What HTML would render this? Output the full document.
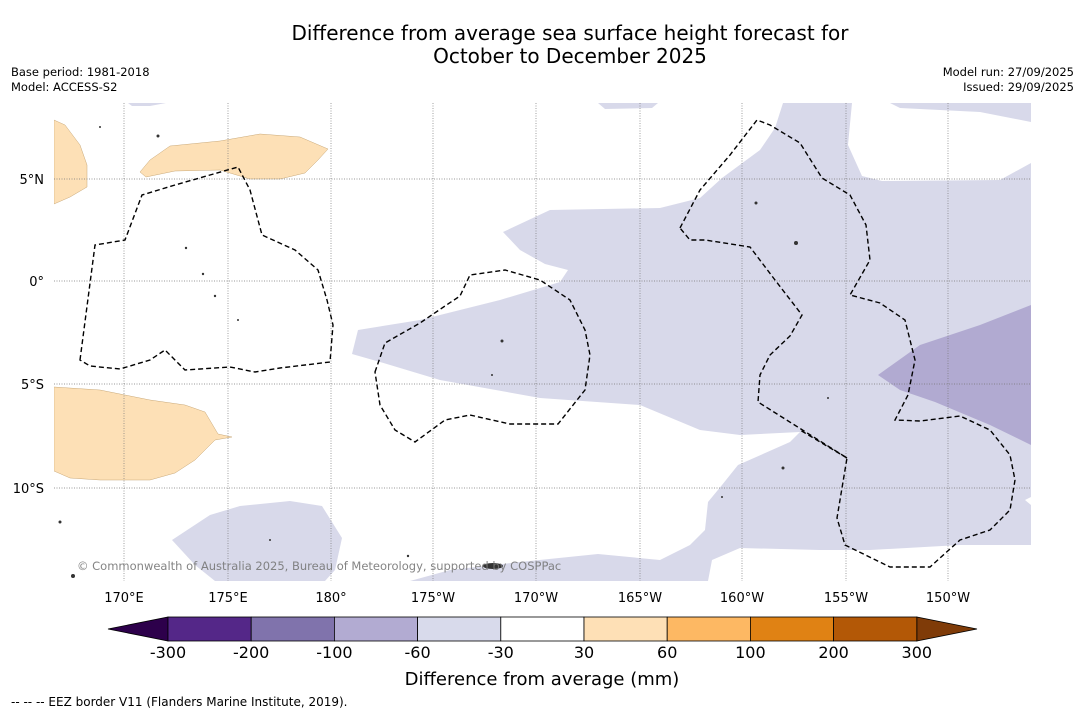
<!DOCTYPE html>
<html><head><meta charset="utf-8">
<style>
body{margin:0;background:#fff;font-family:"DejaVu Sans","Liberation Sans",sans-serif;}
#wrap{position:relative;width:1085px;height:713px;overflow:hidden;background:#fff}
.t{position:absolute;white-space:nowrap;color:#000}
svg text{font-family:"DejaVu Sans","Liberation Sans",sans-serif}
</style></head>
<body>
<div id="wrap">
<div class="t" style="left:0;width:1140px;text-align:center;top:22px;font-size:20px;line-height:23px">Difference from average sea surface height forecast for<br>October to December 2025</div>
<div class="t" style="left:11px;top:65px;font-size:11.5px;line-height:15px">Base period: 1981-2018<br>Model: ACCESS-S2</div>
<div class="t" style="right:11px;top:65px;font-size:11.5px;line-height:15px;text-align:right">Model run: 27/09/2025<br>Issued: 29/09/2025</div>
<svg id="map" width="1085" height="713" style="position:absolute;left:0;top:0">
 <defs><clipPath id="mc"><rect x="54" y="103" width="977" height="478"/></clipPath></defs>
 <g clip-path="url(#mc)">
  <g fill="#d8d9ea">
   <path d="M598,103 L658,103 L652,108 L605,109 Z"/>
   <path d="M128,103 L166,103 L150,106 L132,106 Z"/>
   <path d="M783,103 L852,103 L848,145 L862,176 L882,181 L1000,180 L1031,163 L1031,497 L1025,500 L1031,505 L1031,545 L960,545 L870,550 L820,550 L740,548 L712,560 L708,581 L410,581 L450,570 L520,562 L598,554 L660,560 L690,545 L705,530 L708,502 L722,485 L738,465 L790,442 L800,432 L740,435 L700,430 L640,405 L540,398 L440,380 L380,362 L352,354 L358,330 L420,320 L500,300 L560,282 L568,270 L545,264 L520,250 L503,232 L550,210 L660,208 L700,198 L722,178 L760,150 L775,128 Z"/>
   <path d="M890,103 L1031,103 L1031,122 L980,112 L900,108 Z"/>
   <path d="M172,540 L210,515 L240,506 L290,501 L322,506 L342,538 L335,570 L325,581 L215,581 L195,565 Z"/>
  </g>
  <path fill="#b1aad1" d="M878,375 L920,345 L980,325 L1031,305 L1031,445 L990,425 L935,402 L900,390 Z"/>
  <g fill="#fde0b6" stroke="#c8a878" stroke-width="0.5">
   <path d="M54,120 L65,125 L80,145 L87,165 L87,187 L70,197 L54,204 Z"/>
   <path d="M140,172 L150,160 L170,146 L220,141 L260,134 L300,137 L328,149 L318,160 L305,173 L280,179 L250,179 L220,170 L175,171 L146,177 Z"/>
   <path d="M54,387 L100,390 L125,395 L150,400 L185,405 L205,412 L218,434 L232,437 L215,440 L195,460 L175,473 L150,480 L100,480 L70,478 L54,471 Z"/>
  </g>
  <g stroke="#777" stroke-width="0.7" stroke-dasharray="1,1.5">
   <line x1="124" y1="103" x2="124" y2="581"/><line x1="228" y1="103" x2="228" y2="581"/>
   <line x1="331" y1="103" x2="331" y2="581"/><line x1="433" y1="103" x2="433" y2="581"/>
   <line x1="536" y1="103" x2="536" y2="581"/><line x1="640" y1="103" x2="640" y2="581"/>
   <line x1="742" y1="103" x2="742" y2="581"/><line x1="846" y1="103" x2="846" y2="581"/>
   <line x1="948" y1="103" x2="948" y2="581"/>
   <line x1="54" y1="179" x2="1031" y2="179"/><line x1="54" y1="281" x2="1031" y2="281"/>
   <line x1="54" y1="384" x2="1031" y2="384"/><line x1="54" y1="488" x2="1031" y2="488"/>
  </g>
  <g fill="none" stroke="#000" stroke-width="1.4" stroke-dasharray="5,3">
   <path d="M80,360 L95,245 L125,240 L142,195 L175,185 L210,175 L238,167 L250,190 L262,235 L295,250 L318,270 L327,300 L333,325 L330,362 L280,368 L255,372 L230,367 L185,370 L165,350 L150,360 L120,369 L90,366 Z"/>
   <path d="M375,372 L385,343 L420,323 L445,306 L460,296 L470,275 L505,270 L540,280 L570,300 L585,330 L590,355 L585,390 L558,424 L510,424 L470,415 L445,420 L415,442 L395,430 L380,405 Z"/>
   <path d="M680,228 L700,190 L730,155 L757,120 L770,125 L800,143 L822,178 L850,195 L866,225 L870,260 L850,295 L880,303 L905,320 L915,360 L908,395 L895,420 L920,421 L960,416 L990,430 L1010,455 L1015,480 L1010,510 L990,530 L960,540 L930,567 L890,567 L845,545 L837,518 L847,458 L758,402 L760,375 L770,355 L790,336 L802,315 L775,280 L750,247 L705,240 L690,240 Z"/>
   <path d="M847,458 L800,430"/>
  </g>
  <g fill="#333">
   <circle cx="186" cy="248" r="1.2"/><circle cx="203" cy="274" r="1.2"/><circle cx="215" cy="296" r="1.2"/>
   <circle cx="238" cy="320" r="1"/><circle cx="502" cy="341" r="1.5"/><circle cx="492" cy="375" r="1"/>
   <circle cx="756" cy="203" r="1.5"/><circle cx="796" cy="243" r="2"/><circle cx="783" cy="468" r="1.5"/>
   <circle cx="722" cy="497" r="1"/><circle cx="60" cy="522" r="1.5"/><circle cx="73" cy="576" r="2"/>
   <ellipse cx="493" cy="566" rx="10" ry="3"/><circle cx="408" cy="556" r="1.2"/><circle cx="158" cy="136" r="1.5"/>
   <circle cx="100" cy="127" r="1"/><circle cx="270" cy="540" r="1"/><circle cx="828" cy="398" r="1"/>
  </g>
 </g>
 <text x="77" y="570" font-size="11.5" fill="#777" fill-opacity="0.9">© Commonwealth of Australia 2025, Bureau of Meteorology, supported by COSPPac</text>
 <g font-size="13" text-anchor="middle" fill="#000">
  <text x="124" y="602">170°E</text><text x="228" y="602">175°E</text><text x="331" y="602">180°</text>
  <text x="433" y="602">175°W</text><text x="536" y="602">170°W</text><text x="640" y="602">165°W</text>
  <text x="742" y="602">160°W</text><text x="846" y="602">155°W</text><text x="948" y="602">150°W</text>
 </g>
 <g font-size="13" text-anchor="end" fill="#000">
  <text x="44" y="184">5°N</text><text x="44" y="286">0°</text><text x="44" y="389">5°S</text><text x="44" y="493">10°S</text>
 </g>
 <g id="cbar"></g>
 <text x="542" y="685" font-size="18" text-anchor="middle">Difference from average (mm)</text>
 <text x="11" y="706" font-size="12">--  --  -- EEZ border V11 (Flanders Marine Institute, 2019).</text>
</svg>
</div>
<script>
const levels=[-300,-200,-100,-60,-30,30,60,100,200,300];
const boxColors=["#542788","#8073ac","#b2abd2","#d8daeb","#ffffff","#fee0b6","#fdb863","#e08214","#b35806"];
const extendColors=["#2d004b","#7f3b08"];
const NS="http://www.w3.org/2000/svg";
const g=document.getElementById('cbar');
const x0=168,bw=83.2,y0=617,h=24;
function bx(i){return x0+i*bw;}
function mk(t,a){const e=document.createElementNS(NS,t);for(const k in a)e.setAttribute(k,a[k]);g.appendChild(e);return e;}
const lt=mk('polygon',{points:`${bx(0)},${y0} ${bx(0)},${y0+h} 108,${y0+h/2}`,fill:extendColors[0],stroke:'#000','stroke-width':0.8});


const n=levels.length-1;
const rt=mk('polygon',{points:`${bx(n)},${y0} ${bx(n)},${y0+h} 977,${y0+h/2}`,fill:extendColors[1],stroke:'#000','stroke-width':0.8});


boxColors.forEach((c,i)=>{
 const r=mk('rect',{x:bx(i),y:y0,width:bw,height:h,fill:c,stroke:'#000','stroke-width':0.8});
 
 
});
levels.forEach((v,i)=>{
 const t=mk('text',{x:bx(i),y:658,'font-size':16,'text-anchor':'middle'});
 t.textContent=v;
 
 
});
</script>
</body></html>
